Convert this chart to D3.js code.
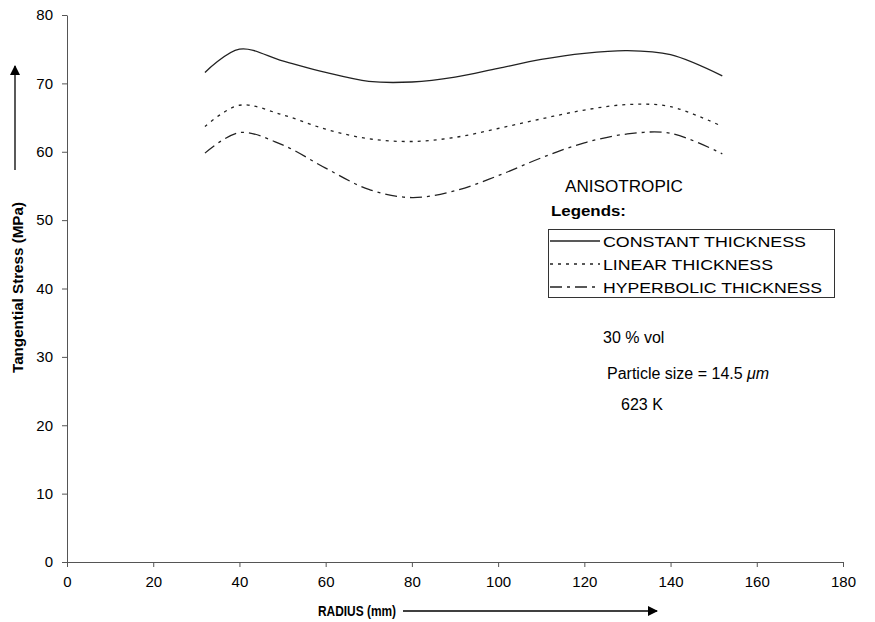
<!DOCTYPE html>
<html>
<head>
<meta charset="utf-8">
<script src="https://cdn.jsdelivr.net/npm/d3@7"></script>
<style>
  body { margin: 0; background: #fff; }
  svg { font-family: "Liberation Sans", Arial, sans-serif; }
</style>
</head>
<body>
<svg id="chart" width="875" height="622"></svg>
<script>
// ---- data ----
const radius = [32, 40, 50, 60, 70, 80, 90, 100, 110, 120, 130, 140, 152];
const constantThickness   = [71.6, 75.0, 73.3, 71.6, 70.3, 70.2, 70.9, 72.2, 73.5, 74.4, 74.8, 74.2, 71.1];
const linearThickness     = [63.7, 66.8, 65.4, 63.3, 61.9, 61.5, 62.1, 63.4, 64.8, 66.1, 66.9, 66.6, 63.7];
const hyperbolicThickness = [59.8, 62.8, 61.0, 57.6, 54.5, 53.3, 54.3, 56.5, 59.1, 61.3, 62.6, 62.7, 59.7];
const seriesNames = ["CONSTANT THICKNESS", "LINEAR THICKNESS", "HYPERBOLIC THICKNESS"];
const xTicks = [0, 20, 40, 60, 80, 100, 120, 140, 160, 180];
const yTicks = [0, 10, 20, 30, 40, 50, 60, 70, 80];
const notes = ["30 % vol", "Particle size = 14.5 ", "623 K"];

// ---- layout ----
const svg = d3.select("#chart");
const x = d3.scaleLinear().domain([0, 180]).range([67, 843]);
const y = d3.scaleLinear().domain([0, 80]).range([562, 15]);
const axisColor = "#555";

// axes
const xAxis = svg.append("g").attr("transform", `translate(0,${y(0)})`)
  .call(d3.axisBottom(x).tickValues(xTicks).tickSize(5).tickSizeOuter(0).tickPadding(9));
const yAxis = svg.append("g").attr("transform", `translate(${x(0)},0)`)
  .call(d3.axisLeft(y).tickValues(yTicks).tickSize(5).tickSizeOuter(0).tickPadding(9));
[xAxis, yAxis].forEach(g => {
  g.select(".domain").attr("stroke", axisColor).attr("stroke-width", 1);
  g.selectAll(".tick line").attr("stroke", axisColor);
  g.selectAll(".tick text").attr("fill", "#000").style("font-size", "15px")
    .style("font-family", "'Liberation Sans', Arial, sans-serif");
});

// arrows
const defs = svg.append("defs");
defs.append("marker").attr("id", "arr").attr("viewBox", "0 0 10 10")
  .attr("refX", 9).attr("refY", 5).attr("markerWidth", 10).attr("markerHeight", 10)
  .attr("markerUnits", "userSpaceOnUse").attr("orient", "auto")
  .append("path").attr("d", "M0,0 L10,5 L0,10 Z").attr("fill", "#000");

// axis titles
svg.append("text").attr("transform", "translate(23,287.5) rotate(-90)")
  .attr("text-anchor", "middle").style("font-size", "14.5px").style("font-weight", "bold")
  .attr("textLength", 171).attr("lengthAdjust", "spacingAndGlyphs")
  .text("Tangential Stress (MPa)");
svg.append("line").attr("x1", 15).attr("y1", 170).attr("x2", 15).attr("y2", 66)
  .attr("stroke", "#000").attr("stroke-width", 1.3).attr("marker-end", "url(#arr)");

svg.append("text").attr("x", 357).attr("y", 616)
  .attr("text-anchor", "middle").style("font-size", "14px").style("font-weight", "bold")
  .attr("textLength", 78).attr("lengthAdjust", "spacingAndGlyphs")
  .text("RADIUS (mm)");
svg.append("line").attr("x1", 403).attr("y1", 611).attr("x2", 657).attr("y2", 611)
  .attr("stroke", "#000").attr("stroke-width", 1.3).attr("marker-end", "url(#arr)");

// series
const dashes = [null, "3,5", "12,5,3,5"];
const series = [constantThickness, linearThickness, hyperbolicThickness];
const line = d3.line().x(d => x(d[0])).y(d => y(d[1])).curve(d3.curveCatmullRom.alpha(0.5));
series.forEach((vals, i) => {
  svg.append("path").datum(radius.map((r, j) => [r, vals[j]]))
    .attr("d", line).attr("fill", "none").attr("stroke", "#222")
    .attr("stroke-width", 1.3).attr("stroke-dasharray", dashes[i]);
});

// annotations
svg.append("text").attr("x", 565).attr("y", 192).style("font-size", "16.5px")
  .attr("textLength", 118).attr("lengthAdjust", "spacingAndGlyphs").text("ANISOTROPIC");
svg.append("text").attr("x", 551).attr("y", 216).style("font-size", "15px").style("font-weight", "bold")
  .attr("textLength", 75).attr("lengthAdjust", "spacingAndGlyphs").text("Legends:");

// legend
const lg = svg.append("g");
lg.append("rect").attr("x", 548.5).attr("y", 229.5).attr("width", 286).attr("height", 68)
  .attr("fill", "#fff").attr("stroke", "#333").attr("stroke-width", 1);
const legendWidths = [203, 170, 219];
seriesNames.forEach((name, i) => {
  const cy = 241 + i * 23;
  lg.append("line").attr("x1", 550).attr("x2", 600).attr("y1", cy).attr("y2", cy)
    .attr("stroke", "#222").attr("stroke-width", 1.3).attr("stroke-dasharray", dashes[i]);
  lg.append("text").attr("x", 603).attr("y", cy + 5.5).style("font-size", "15.5px")
    .attr("textLength", legendWidths[i]).attr("lengthAdjust", "spacingAndGlyphs").text(name);
});

// notes
svg.append("text").attr("x", 603).attr("y", 343).style("font-size", "16px").text(notes[0]);
const ps = svg.append("text").attr("x", 607).attr("y", 379).style("font-size", "16px");
ps.append("tspan").text(notes[1]);
ps.append("tspan").style("font-style", "italic").text("μm");
svg.append("text").attr("x", 621).attr("y", 410).style("font-size", "16px").text(notes[2]);
</script>
</body>
</html>
